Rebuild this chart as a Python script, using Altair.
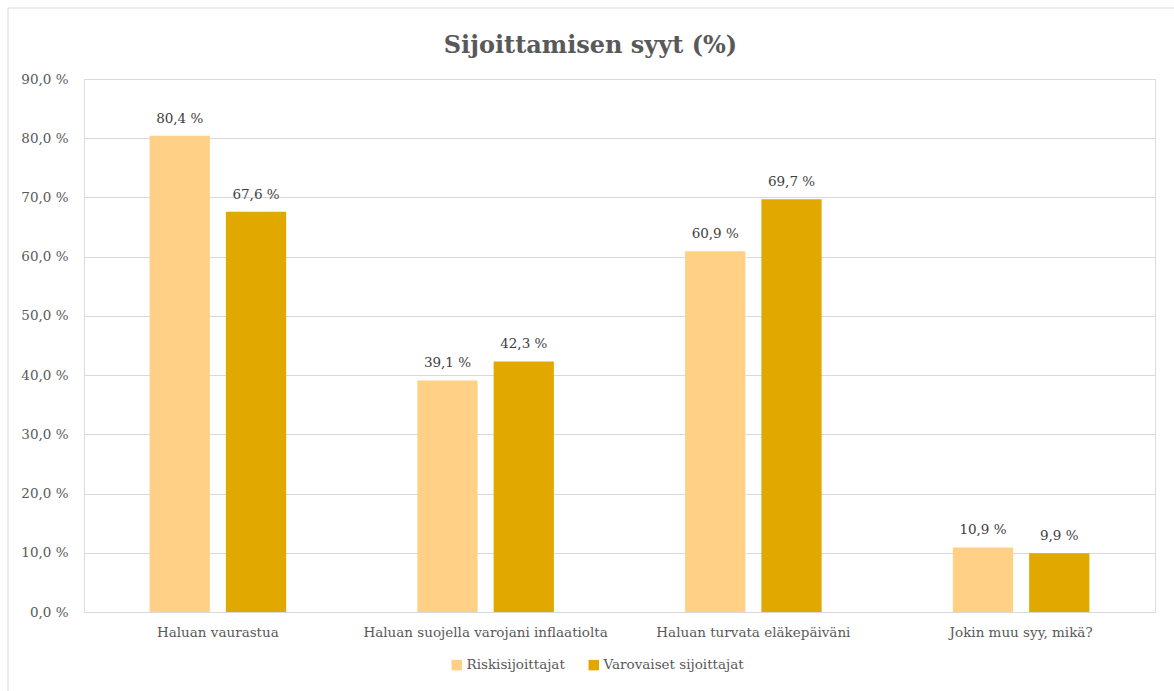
import altair as alt
import pandas as pd

categories = ["Haluan vaurastua", "Haluan suojella varojani inflaatiolta",
              "Haluan turvata eläkepäiväni", "Jokin muu syy, mikä?"]
series = ["Riskisijoittajat", "Varovaiset sijoittajat"]
riski = [80.4, 39.1, 60.9, 10.9]
varovaiset = [67.6, 42.3, 69.7, 9.9]
colors = ["#FFD085", "#E1A900"]
y_ticks = [0, 10, 20, 30, 40, 50, 60, 70, 80, 90]

rows = []
for c, a, b in zip(categories, riski, varovaiset):
    rows.append({"cat": c, "series": series[0], "value": a})
    rows.append({"cat": c, "series": series[1], "value": b})
df = pd.DataFrame(rows)

FONT = "DejaVu Serif"
GREY = "#595959"
FS = 13.5

x = alt.X("cat:N", sort=categories,
          scale=alt.Scale(paddingInner=0.49, paddingOuter=0.245),
          axis=alt.Axis(title=None, labelAngle=0, domain=False, ticks=False,
                        labelPadding=13, labelFont=FONT, labelFontSize=FS,
                        labelColor=GREY, labelLimit=0))
xo = alt.XOffset("series:N", sort=series,
                 scale=alt.Scale(paddingInner=0.21, paddingOuter=0))
y = alt.Y("value:Q", scale=alt.Scale(domain=[0, 90], nice=False),
          axis=alt.Axis(title=None, values=y_ticks, domain=False, ticks=False,
                        gridColor="#D9D9D9", gridWidth=1, labelPadding=16,
                        labelFont=FONT, labelFontSize=FS, labelColor=GREY,
                        labelExpr="replace(format(datum.value, '.1f'), '.', ',') + ' %'"))

base = alt.Chart(df)

bars = base.mark_bar().encode(
    x=x, xOffset=xo, y=y,
    color=alt.Color("series:N", sort=series,
                    scale=alt.Scale(domain=series, range=colors),
                    legend=alt.Legend(title=None, orient="none", direction="horizontal",
                                      legendX=366, legendY=579, symbolType="square",
                                      symbolSize=110, symbolStrokeWidth=0,
                                      labelFont=FONT, labelFontSize=FS,
                                      labelColor=GREY, columnPadding=22,
                                      labelOffset=3)),
)

labels = base.transform_calculate(
    lbl="replace(format(datum.value, '.1f'), '.', ',') + ' %'"
).mark_text(baseline="bottom", dy=-10, font=FONT, fontSize=FS, color="#404040").encode(
    x=x, xOffset=xo, y=y, text="lbl:N"
)

frame_df = pd.DataFrame({"a": [0]})
left_border = alt.Chart(frame_df).mark_rule(color="#D9D9D9", strokeWidth=1).encode(
    x=alt.value(-76), y=alt.value(-71), y2=alt.value(612))
top_border = alt.Chart(frame_df).mark_rule(color="#D9D9D9", strokeWidth=1).encode(
    x=alt.value(-76), x2=alt.value(1090), y=alt.value(-71))

chart = alt.layer(bars, labels, left_border, top_border).properties(
    width=1071, height=533,
    autosize=alt.AutoSizeParams(type="none"),
    padding={"left": 84, "top": 79, "right": 19, "bottom": 79},
    title=alt.TitleParams("Sijoittamisen syyt (%)", font=FONT, fontSize=24,
                          fontWeight="bold", color=GREY, anchor="middle",
                          dx=-29, offset=-50),
).configure_view(stroke=None).configure(background="white")

chart.save("out.html", embed_options={"renderer": "svg", "actions": False})
